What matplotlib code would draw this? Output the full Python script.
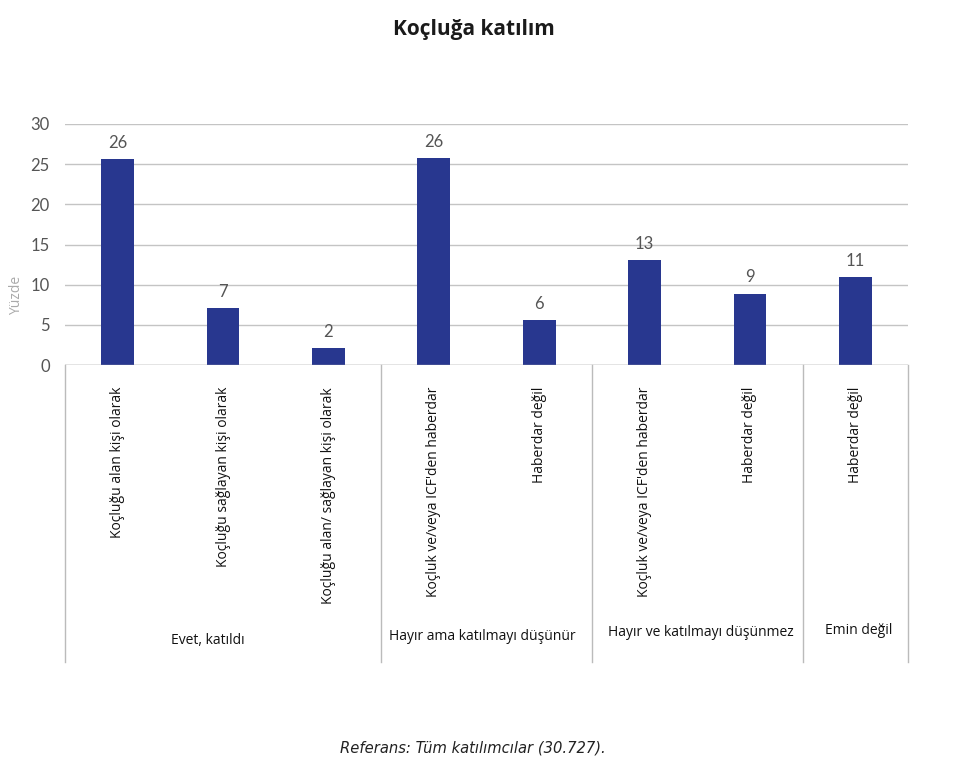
import matplotlib
matplotlib.use("Agg")
import matplotlib.pyplot as plt
import matplotlib.transforms as mtransforms

title = "Koçluğa katılım"
footer = "Referans: Tüm katılımcılar (30.727)."
ylabel = "Yüzde"
categories = [
    "Koçluğu alan kişi olarak",
    "Koçluğu sağlayan kişi olarak",
    "Koçluğu alan/ sağlayan kişi olarak",
    "Koçluk ve/veya ICF'den haberdar",
    "Haberdar değil",
    "Koçluk ve/veya ICF'den haberdar",
    "Haberdar değil",
    "Haberdar değil",
]
values = [25.6, 7.1, 2.1, 25.8, 5.6, 13.1, 8.9, 10.9]
labels = ["26", "7", "2", "26", "6", "13", "9", "11"]
groups = ["Evet, katıldı", "Hayır ama katılmayı düşünür",
          "Hayır ve katılmayı düşünmez", "Emin değil"]
group_sizes = [3, 2, 2, 1]
yticks = [0, 5, 10, 15, 20, 25, 30]

W, H = 966, 761
fig = plt.figure(figsize=(W / 100, H / 100), dpi=100)
left, right, top, bottom = 65, 908, 124, 365
ax = fig.add_axes([left / W, 1 - bottom / H, (right - left) / W, (bottom - top) / H])

bar_color = "#28378F"
grid_color = "#C4C4C4"
text_gray = "#555555"

x = list(range(len(values)))
ax.bar(x, values, width=0.31, color=bar_color, zorder=3)
for xi, v, lab in zip(x, values, labels):
    ax.text(xi, v + 1.0, lab, ha="center", va="bottom", fontsize=12,
            color=text_gray, family="Lato")

ax.set_xlim(-0.5, len(values) - 0.5)
ax.set_ylim(0, 30)
ax.set_yticks(yticks)
ax.set_yticklabels([str(t) for t in yticks], fontsize=12, color=text_gray, family="Lato")
ax.tick_params(axis="y", length=0, pad=11)
ax.set_xticks([])
for s in ax.spines.values():
    s.set_visible(False)
ax.grid(axis="y", color=grid_color, linewidth=1, zorder=0)
ax.axhline(0, color="#AAAAAA", linewidth=1, zorder=4)

fig.text(17 / W, 1 - 295 / H, ylabel, rotation=90, ha="center", va="center",
         fontsize=10, color="#AAAAAA", family="Open Sans")

trans = mtransforms.blended_transform_factory(ax.transData, ax.transAxes)
low = (bottom - 662) / (bottom - top)
label_top = (bottom - 387) / (bottom - top)
for xi, cat in zip(x, categories):
    ax.text(xi, label_top, cat, rotation=90, ha="center", va="top", transform=trans,
            fontsize=10, color="#111111", family="Open Sans")

bounds = [-0.5]
for gs in group_sizes:
    bounds.append(bounds[-1] + gs)
for b in bounds:
    ax.plot([b, b], [0, low], color="#BBBBBB", linewidth=1, transform=trans, clip_on=False)

group_px = [(208, 640), (482, 637), (701, 633), (859, 631)]
for g, (gx, gy) in zip(groups, group_px):
    fig.text(gx / W, 1 - gy / H, g, ha="center", va="center",
             fontsize=10, color="#111111", family="Open Sans")

fig.text(474 / W, 1 - 30 / H, title, ha="center", va="center", fontsize=15,
         fontweight="bold", color="#1a1a1a", family="Open Sans")
fig.text(473 / W, 1 - 748 / H, footer, ha="center", va="center", fontsize=10.6,
         style="italic", color="#222222", family="DejaVu Sans")

fig.savefig("out.png", dpi=100, facecolor="white")
